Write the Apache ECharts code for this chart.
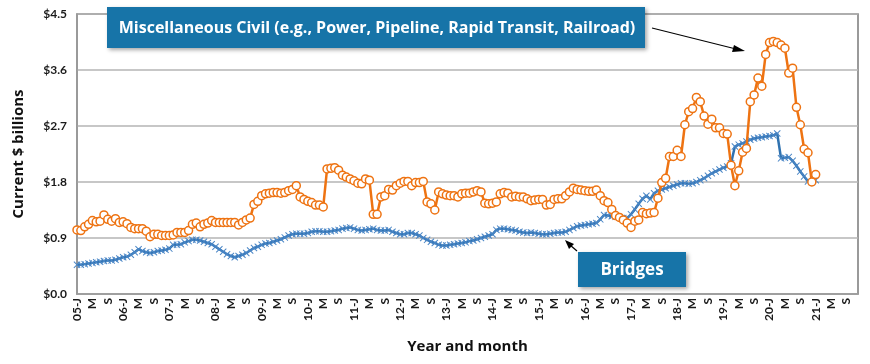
<!DOCTYPE html>
<html>
<head>
<meta charset="utf-8">
<script src="https://cdn.jsdelivr.net/npm/echarts@6/dist/echarts.min.js"></script>
<style>
html,body{margin:0;padding:0;background:#fff;}
#chart{width:870px;height:364px;}
</style>
</head>
<body>
<div id="chart"></div>
<script>
// ---- data ----
var years = ['05','06','07','08','09','10','11','12','13','14','15','16','17','18','19','20','21'];
var monthLetters = ['J','F','M','A','M','J','J','A','S','O','N','D'];
var labelMonths = [0, 4, 8]; // J, M, S shown on axis

// Miscellaneous Civil, monthly from Jan 2005 to Jan 2021 ($ billions)
var miscCivil = [
1.03,1.02,1.08,1.12,1.18,1.16,1.17,1.27,1.20,1.17,1.21,1.15,
1.16,1.13,1.07,1.05,1.05,1.05,1.01,0.92,0.96,0.96,0.94,0.94,
0.94,0.95,0.99,0.99,0.99,1.02,1.12,1.14,1.08,1.12,1.14,1.18,
1.15,1.15,1.15,1.15,1.15,1.15,1.11,1.15,1.19,1.22,1.44,1.49,
1.58,1.61,1.62,1.63,1.63,1.62,1.63,1.66,1.68,1.74,1.56,1.52,
1.49,1.47,1.43,1.43,1.40,2.01,2.02,2.03,1.99,1.91,1.88,1.85,
1.82,1.78,1.77,1.85,1.83,1.28,1.28,1.56,1.58,1.68,1.67,1.74,
1.78,1.81,1.81,1.74,1.79,1.79,1.81,1.48,1.45,1.35,1.64,1.61,
1.59,1.58,1.58,1.56,1.61,1.62,1.62,1.64,1.66,1.64,1.46,1.45,
1.46,1.48,1.61,1.63,1.62,1.56,1.57,1.56,1.56,1.53,1.50,1.51,
1.52,1.52,1.43,1.44,1.52,1.53,1.53,1.58,1.64,1.70,1.68,1.67,
1.66,1.65,1.65,1.67,1.58,1.50,1.47,1.36,1.26,1.23,1.19,1.14,
1.07,1.17,1.19,1.31,1.29,1.30,1.31,1.54,1.79,1.86,2.21,2.21,
2.31,2.21,2.72,2.93,2.98,3.16,3.09,2.86,2.73,2.81,2.67,2.67,
2.58,2.57,2.07,1.74,1.98,2.28,2.34,3.09,3.20,3.47,3.34,3.85,
4.04,4.06,4.04,4.00,3.95,3.55,3.63,3.00,2.72,2.33,2.27,1.80,
1.92
];

// Bridges, monthly from Jan 2005 to Jan 2021 ($ billions)
var bridges = [
0.47,0.47,0.48,0.49,0.50,0.51,0.52,0.53,0.54,0.54,0.55,0.57,
0.59,0.60,0.63,0.67,0.72,0.69,0.67,0.66,0.67,0.69,0.70,0.71,
0.73,0.79,0.79,0.80,0.83,0.85,0.87,0.87,0.86,0.84,0.82,0.80,
0.76,0.72,0.68,0.64,0.61,0.59,0.61,0.63,0.66,0.70,0.74,0.76,
0.79,0.81,0.82,0.84,0.86,0.88,0.91,0.94,0.96,0.97,0.97,0.97,
0.98,1.00,1.01,1.01,1.00,1.00,1.01,1.02,1.03,1.05,1.06,1.07,
1.05,1.03,1.02,1.03,1.04,1.05,1.03,1.02,1.02,1.03,1.00,0.98,
0.96,0.96,0.98,0.98,0.96,0.94,0.90,0.87,0.84,0.82,0.79,0.78,
0.78,0.79,0.80,0.81,0.82,0.83,0.85,0.86,0.88,0.90,0.92,0.94,
0.96,1.03,1.05,1.05,1.04,1.03,1.02,1.00,0.99,0.98,0.99,0.98,
0.97,0.96,0.96,0.97,0.98,0.99,0.99,1.00,1.03,1.06,1.09,1.10,
1.11,1.12,1.13,1.14,1.20,1.27,1.26,1.25,1.24,1.23,1.22,1.22,
1.28,1.36,1.45,1.53,1.58,1.52,1.62,1.66,1.68,1.70,1.72,1.74,
1.76,1.78,1.78,1.77,1.78,1.80,1.83,1.86,1.90,1.94,1.97,2.00,
2.03,2.05,2.10,2.37,2.40,2.42,2.45,2.48,2.50,2.51,2.52,2.53,
2.54,2.55,2.58,2.18,2.19,2.20,2.14,2.06,1.97,1.89,1.81,1.80,
1.83
];

var yTicks = [0, 0.9, 1.8, 2.7, 3.6, 4.5];

// ---- build categories ----
var categories = [];
var axisLabels = [];
years.forEach(function(y){
  monthLetters.forEach(function(m, mi){
    categories.push(y + '-' + (mi+1));
    if (mi === 0) axisLabels.push(y + '-J');
    else if (labelMonths.indexOf(mi) >= 0) axisLabels.push(m);
    else axisLabels.push('');
  });
});

var FONT = 'Lato, "Open Sans", sans-serif';
var BOXFONT = '"Open Sans", Lato, sans-serif';
var BOX = '#1774a8';

var chart = echarts.init(document.getElementById('chart'), null, {renderer:'canvas'});
chart.setOption({
  animation: false,
  backgroundColor: '#fff',
  grid: {left: 77, right: 12, top: 14, bottom: 70, show: true, borderColor: '#7a7a7a', borderWidth: 1.5, containLabel: false},
  xAxis: {
    type: 'category',
    data: categories,
    boundaryGap: false,
    axisLine: {show: true, lineStyle: {color: '#9a9a9a', width: 1.5}},
    axisTick: {show: false},
    axisLabel: {
      interval: 0,
      rotate: 90,
      margin: 4,
      color: '#1a1a1a',
      fontFamily: FONT,
      fontWeight: 'bold',
      fontSize: 12,
      formatter: function(v, i){ return axisLabels[i]; }
    },
    name: 'Year and month',
    nameLocation: 'middle',
    nameGap: 45,
    nameTextStyle: {fontFamily: BOXFONT, fontWeight: 'bold', fontSize: 15, color: '#111'}
  },
  yAxis: {
    type: 'value',
    min: yTicks[0], max: yTicks[yTicks.length-1], interval: 0.9,
    axisLine: {show: true, lineStyle: {color: '#9a9a9a', width: 1.5}},
    axisTick: {show: false},
    splitLine: {show: true, lineStyle: {color: '#b4b4b4', width: 1.5}},
    axisLabel: {
      margin: 10,
      color: '#1a1a1a',
      fontFamily: FONT,
      fontWeight: 'bold',
      fontSize: 12,
      formatter: function(v){ return '$' + v.toFixed(1); }
    },
    name: 'Current $ billions',
    nameLocation: 'middle',
    nameRotate: 90,
    nameGap: 51,
    nameTextStyle: {fontFamily: BOXFONT, fontWeight: 'bold', fontSize: 15, color: '#111'}
  },
  series: [
    {
      name: 'Bridges',
      type: 'line',
      data: bridges,
      symbol: 'path://M0,1L1,0L5,4L9,0L10,1L6,5L10,9L9,10L5,6L1,10L0,9L4,5Z',
      symbolSize: 7,
      showAllSymbol: true,
      lineStyle: {color: '#2f72b0', width: 2.5},
      itemStyle: {color: '#4a86c6'},
      z: 2
    },
    {
      name: 'Miscellaneous Civil',
      type: 'line',
      data: miscCivil,
      symbol: 'circle',
      symbolSize: 8,
      showAllSymbol: true,
      lineStyle: {color: '#ee7312', width: 2.5},
      itemStyle: {color: '#ffffff', borderColor: '#ee7312', borderWidth: 1.5},
      z: 3
    }
  ],
  graphic: [
    {type: 'rect', shape: {x: 107, y: 7, width: 538, height: 41}, style: {fill: BOX, shadowBlur: 4, shadowOffsetX: 2, shadowOffsetY: 2, shadowColor: 'rgba(0,0,0,0.35)'}, z: 10},
    {type: 'text', x: 377, y: 28, style: {text: 'Miscellaneous Civil (e.g., Power, Pipeline, Rapid Transit, Railroad)', fill: '#fff', font: 'bold 16px ' + BOXFONT, align: 'center', verticalAlign: 'middle'}, z: 11},
    {type: 'line', shape: {x1: 652, y1: 28, x2: 736, y2: 49}, style: {stroke: '#000', lineWidth: 1.2}, z: 10},
    {type: 'polygon', shape: {points: [[745, 51], [734, 45], [732, 52]]}, style: {fill: '#000'}, z: 10},
    {type: 'rect', shape: {x: 578, y: 252, width: 108, height: 35}, style: {fill: BOX, shadowBlur: 4, shadowOffsetX: 2, shadowOffsetY: 2, shadowColor: 'rgba(0,0,0,0.35)'}, z: 10},
    {type: 'text', x: 632, y: 270, style: {text: 'Bridges', fill: '#fff', font: 'bold 17px ' + BOXFONT, align: 'center', verticalAlign: 'middle'}, z: 11},
    {type: 'line', shape: {x1: 577, y1: 251, x2: 570, y2: 245}, style: {stroke: '#000', lineWidth: 1.2}, z: 10},
    {type: 'polygon', shape: {points: [[565, 240], [574, 244], [569, 249]]}, style: {fill: '#000'}, z: 10}
  ]
});
</script>
</body>
</html>
